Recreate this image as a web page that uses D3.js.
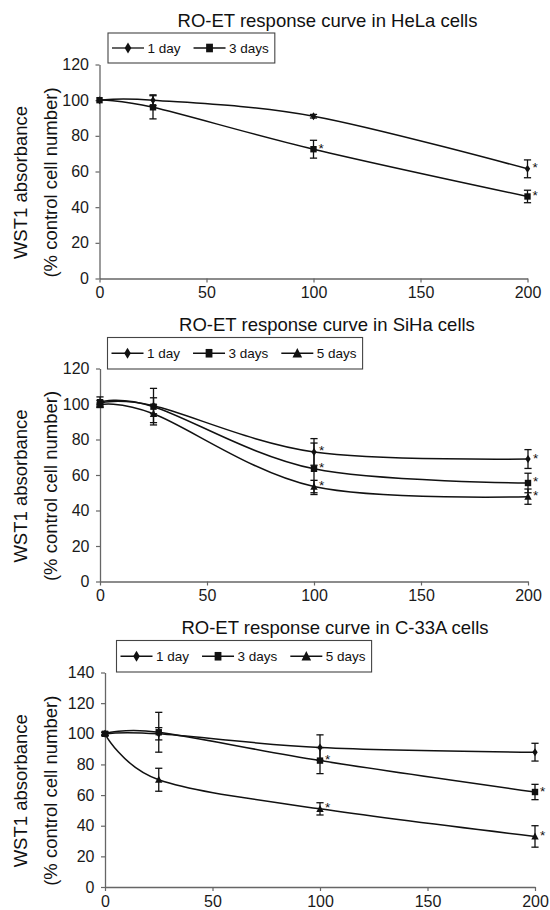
<!DOCTYPE html>
<html>
<head>
<meta charset="utf-8">
<script src="https://cdn.jsdelivr.net/npm/d3@7"></script>
<style>
  html, body { margin: 0; padding: 0; background: #fff; }
  svg { display: block; font-family: "Liberation Sans", Arial, Helvetica, sans-serif; }
</style>
</head>
<body>
<svg id="fig" width="550" height="910"></svg>
<script>
// ---------- Data ----------
const doses = [0, 25, 100, 200];
const xTicks = [0, 50, 100, 150, 200];
const seriesNames = ['1 day', '3 days', '5 days'];
const yTitle1 = 'WST1 absorbance';
const yTitle2 = '(% control cell number)';

// HeLa
const helaTitle = 'RO-ET response curve in HeLa cells';
const helaYTicks = [0, 20, 40, 60, 80, 100, 120];
const helaDay1 = [100, 100, 91, 61.5];
const helaDay1Err = [0.5, 3, 1, 5];
const helaDay1Star = [0, 0, 0, 1];
const helaDay3 = [100, 96, 72.5, 46];
const helaDay3Err = [0.5, 6.5, 5, 3.5];
const helaDay3Star = [0, 0, 1, 1];

// SiHa
const sihaTitle = 'RO-ET response curve in SiHa cells';
const sihaYTicks = [0, 20, 40, 60, 80, 100, 120];
const sihaDay1 = [100.5, 99, 73, 69];
const sihaDay1Err = [1.5, 4.5, 7.5, 5.3];
const sihaDay1Star = [0, 0, 1, 1];
const sihaDay3 = [101, 98.5, 63.5, 55.5];
const sihaDay3Err = [3, 10.3, 14.5, 5.5];
const sihaDay3Star = [0, 0, 1, 1];
const sihaDay5 = [99.5, 94.5, 53.5, 47.8];
const sihaDay5Err = [1, 5, 3.5, 4.3];
const sihaDay5Star = [0, 0, 1, 1];

// C-33A
const c33aTitle = 'RO-ET response curve in C-33A cells';
const c33aYTicks = [0, 20, 40, 60, 80, 100, 120, 140];
const c33aDay1 = [100, 100, 91, 88];
const c33aDay1Err = [1, 4, 8.3, 5.8];
const c33aDay1Star = [0, 0, 0, 0];
const c33aDay3 = [100, 101, 82.5, 62];
const c33aDay3Err = [1, 13, 8.5, 5];
const c33aDay3Star = [0, 0, 1, 1];
const c33aDay5 = [100, 70, 51, 33];
const c33aDay5Err = [1, 7.5, 4, 7];
const c33aDay5Star = [0, 0, 1, 1];

// ---------- Panel setup ----------
const panels = [
  {
    title: helaTitle, yTicks: helaYTicks,
    series: [
      { name: seriesNames[0], values: helaDay1, err: helaDay1Err, star: helaDay1Star, shape: 'diamond' },
      { name: seriesNames[1], values: helaDay3, err: helaDay3Err, star: helaDay3Star, shape: 'square' },
    ],
    plot: { left: 99.5, right: 527.5, top: 64.5, bottom: 278.5 },
    titleX: 327.5, titleY: 27,
    legend: { x: 108, y: 33, h: 30 },
  },
  {
    title: sihaTitle, yTicks: sihaYTicks,
    series: [
      { name: seriesNames[0], values: sihaDay1, err: sihaDay1Err, star: sihaDay1Star, shape: 'diamond' },
      { name: seriesNames[1], values: sihaDay3, err: sihaDay3Err, star: sihaDay3Star, shape: 'square' },
      { name: seriesNames[2], values: sihaDay5, err: sihaDay5Err, star: sihaDay5Star, shape: 'triangle' },
    ],
    plot: { left: 100, right: 528, top: 368.5, bottom: 581.5 },
    titleX: 327, titleY: 331,
    legend: { x: 107.5, y: 337.5, h: 31.5 },
  },
  {
    title: c33aTitle, yTicks: c33aYTicks,
    series: [
      { name: seriesNames[0], values: c33aDay1, err: c33aDay1Err, star: c33aDay1Star, shape: 'diamond' },
      { name: seriesNames[1], values: c33aDay3, err: c33aDay3Err, star: c33aDay3Star, shape: 'square' },
      { name: seriesNames[2], values: c33aDay5, err: c33aDay5Err, star: c33aDay5Star, shape: 'triangle' },
    ],
    plot: { left: 105, right: 535, top: 672.5, bottom: 887 },
    titleX: 335, titleY: 634,
    legend: { x: 116.5, y: 640.5, h: 31.5 },
  },
];

// marker outlines (w = half width, h = half height)
function markerPath(shape, w, h) {
  if (shape === 'diamond') return `M0,${-h}L${w},0L0,${h}L${-w},0Z`;
  if (shape === 'square') return `M${-w},${-h}H${w}V${h}H${-w}Z`;
  return `M0,${-h}L${w},${h * 0.8}L${-w},${h * 0.8}Z`;
}
const plotMarker = { diamond: [2.7, 4], square: [3.2, 3.2], triangle: [3.7, 3.9] };
const legendMarker = { diamond: [3.3, 5.5], square: [3.4, 4.3], triangle: [4.8, 5.2] };

const ink = '#111';
const axisColor = '#666';
const svg = d3.select('#fig');
svg.append('rect').attr('width', 550).attr('height', 910).attr('fill', '#fff');

function drawPanel(p) {
  const g = svg.append('g');
  const yMax = d3.max(p.yTicks);
  const x = d3.scaleLinear().domain([0, 200]).range([p.plot.left, p.plot.right]);
  const y = d3.scaleLinear().domain([0, yMax]).range([p.plot.bottom, p.plot.top]);

  // title
  g.append('text')
    .attr('x', p.titleX).attr('y', p.titleY)
    .attr('text-anchor', 'middle')
    .style('font-size', '18.5px').attr('fill', '#111')
    .text(p.title);

  // axes
  const yAxis = g.append('g')
    .attr('transform', `translate(${p.plot.left},0)`)
    .call(d3.axisLeft(y).tickValues(p.yTicks).tickSize(4).tickSizeOuter(0).tickPadding(6.5));
  const xAxis = g.append('g')
    .attr('transform', `translate(0,${p.plot.bottom})`)
    .call(d3.axisBottom(x).tickValues(xTicks).tickSize(4).tickSizeOuter(0).tickPadding(4.5));
  for (const ax of [yAxis, xAxis]) {
    ax.attr('font-family', null).attr('font-size', null);
    ax.select('.domain').attr('stroke', axisColor).attr('stroke-width', 1.3);
    ax.selectAll('.tick line').attr('stroke', axisColor).attr('stroke-width', 1.2);
    ax.selectAll('.tick text').style('font-size', '16px').attr('fill', '#1a1a1a');
  }

  // y axis title (two lines)
  const cy = (p.plot.top + p.plot.bottom) / 2 + 11;
  [[yTitle1, 27], [yTitle2, 56.5]].forEach(([t, bx]) => {
    g.append('text')
      .attr('transform', `translate(${bx},${cy}) rotate(-90)`)
      .attr('text-anchor', 'middle')
      .style('font-size', '18.5px').attr('fill', '#111')
      .text(t);
  });

  // smoothed lines (Excel-like)
  const line = d3.line()
    .x((d, i) => x(doses[i]))
    .y((d) => y(d))
    .curve(d3.curveCardinal.tension(0));
  g.append('g').selectAll('path')
    .data(p.series)
    .join('path')
    .attr('d', (s) => line(s.values))
    .attr('fill', 'none')
    .attr('stroke', ink)
    .attr('stroke-width', 1.5);

  // error bars
  const eb = g.append('g').attr('stroke', ink).attr('stroke-width', 1.3);
  p.series.forEach((s) => {
    s.values.forEach((v, i) => {
      const e = s.err[i];
      if (!e || e < 0.8) return;
      const cx = x(doses[i]);
      const y0 = y(v - e), y1 = y(v + e);
      eb.append('line').attr('x1', cx).attr('x2', cx).attr('y1', y0).attr('y2', y1);
      eb.append('line').attr('x1', cx - 3.6).attr('x2', cx + 3.6).attr('y1', y0).attr('y2', y0);
      eb.append('line').attr('x1', cx - 3.6).attr('x2', cx + 3.6).attr('y1', y1).attr('y2', y1);
    });
  });

  // markers + asterisks
  p.series.forEach((s) => {
    const [w, h] = plotMarker[s.shape];
    g.append('g').selectAll('path')
      .data(s.values)
      .join('path')
      .attr('transform', (v, i) => `translate(${x(doses[i])},${y(v)})`)
      .attr('d', markerPath(s.shape, w, h))
      .attr('fill', ink);
    g.append('g').selectAll('text')
      .data(s.values.map((v, i) => ({ v, i })).filter((d) => s.star[d.i]))
      .join('text')
      .attr('x', (d) => x(doses[d.i]) + 5)
      .attr('y', (d) => y(d.v) + 3.5)
      .style('font-size', '13.5px')
      .attr('fill', ink)
      .text('*');
  });

  // legend
  const lg = g.append('g');
  const box = lg.append('rect')
    .attr('x', p.legend.x).attr('y', p.legend.y)
    .attr('height', p.legend.h)
    .attr('fill', '#fff').attr('stroke', '#444').attr('stroke-width', 1.1);
  const midY = p.legend.y + p.legend.h / 2;
  let x0 = p.legend.x + 4;
  p.series.forEach((s) => {
    lg.append('line')
      .attr('x1', x0).attr('x2', x0 + 32).attr('y1', midY).attr('y2', midY)
      .attr('stroke', ink).attr('stroke-width', 1.3);
    const [w, h] = legendMarker[s.shape];
    lg.append('path')
      .attr('transform', `translate(${x0 + 16},${midY})`)
      .attr('d', markerPath(s.shape, w, h))
      .attr('fill', ink);
    const t = lg.append('text')
      .attr('x', x0 + 35.5).attr('y', midY)
      .attr('dy', '0.35em')
      .style('font-size', '13.5px').attr('fill', '#111')
      .text(s.name);
    const tw = t.node().getComputedTextLength();
    x0 = x0 + 35.5 + tw + 13;
  });
  box.attr('width', x0 - 13 + 6 - p.legend.x);
}

panels.forEach(drawPanel);
</script>
</body>
</html>
